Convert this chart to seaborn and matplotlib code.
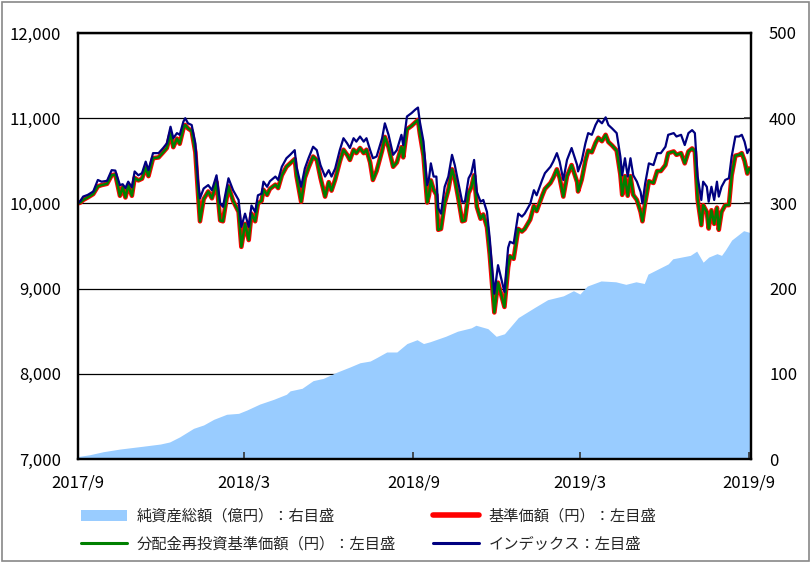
import matplotlib
matplotlib.use("Agg")
import matplotlib.pyplot as plt
from matplotlib.patches import Patch, Rectangle
from matplotlib.lines import Line2D
from matplotlib.ticker import FuncFormatter, FixedLocator
import numpy as np
import pandas as pd
import seaborn as sns

# ---- data -------------------------------------------------------------
start_date = "2017-09-01"

# days elapsed since the start date for the price series
price_days = [
    0, 3, 6, 11, 17, 22, 26, 32, 37, 41, 46, 49, 52, 55, 59, 62, 66, 70, 74, 77,
    82, 88, 93, 97, 101, 104, 108, 111, 115, 117, 120, 124, 128, 131, 133, 137,
    142, 146, 151, 155, 158, 164, 169, 175, 178, 182, 186, 189, 193, 196, 200,
    202, 206, 209, 215, 218, 222, 227, 231, 236, 238, 243, 247, 251, 256, 260,
    264, 269, 273, 276, 280, 285, 289, 293, 296, 300, 303, 307, 311, 314, 318,
    321, 325, 331, 334, 338, 343, 347, 352, 354, 358, 363, 367, 370, 372, 376,
    380, 382, 384, 387, 390, 392, 395, 399, 403, 407, 410, 414, 418, 421, 425,
    428, 431, 434, 438, 441, 445, 448, 453, 457, 464, 468, 470, 474, 479, 483,
    486, 492, 496, 499, 505, 508, 514, 517, 521, 524, 528, 532, 537, 543, 544,
    548, 552, 555, 559, 563, 566, 570, 574, 577, 581, 586, 590, 592, 595, 598,
    601, 604, 608, 612, 614, 617, 621, 626, 630, 634, 639, 642, 648, 651, 656,
    660, 664, 668, 671, 674, 678, 680, 684, 686, 689, 692, 695, 697, 700, 704,
    708, 711, 715, 719, 722, 725, 728, 730, 732,
]

# index level (yen-equivalent, left axis)
index_level = [
    10000, 10030, 10080, 10100, 10140, 10275, 10255, 10265, 10390, 10385, 10215,
    10225, 10180, 10255, 10190, 10375, 10330, 10355, 10490, 10390, 10590, 10590,
    10650, 10705, 10900, 10765, 10825, 10805, 10960, 11000, 10940, 10920, 10705,
    10255, 10060, 10175, 10215, 10155, 10330, 10000, 9960, 10295, 10155, 10040,
    9725, 9880, 9725, 9975, 9900, 10095, 10115, 10255, 10195, 10260, 10315,
    10275, 10430, 10530, 10570, 10625, 10430, 10195, 10410, 10530, 10665, 10625,
    10450, 10315, 10390, 10315, 10410, 10625, 10765, 10705, 10650, 10765, 10725,
    10785, 10725, 10765, 10625, 10530, 10550, 10765, 10940, 10805, 10570, 10625,
    10805, 10685, 11020, 11060, 11100, 11125, 10960, 10725, 10215, 10295, 10470,
    10315, 10315, 9945, 9880, 10195, 10315, 10570, 10450, 10235, 10020, 10020,
    10295, 10355, 10510, 10135, 10020, 10040, 9900, 9590, 8940, 9275, 8960,
    9480, 9550, 9530, 9880, 9845, 9880, 9995, 10155, 10095, 10275, 10355, 10430,
    10490, 10590, 10490, 10275, 10510, 10650, 10450, 10375, 10500, 10705, 10825,
    10805, 10920, 10980, 10940, 11010, 10920, 10880, 10825, 10550, 10330, 10530,
    10315, 10530, 10330, 10255, 10135, 10000, 10235, 10470, 10450, 10590, 10590,
    10665, 10805, 10825, 10785, 10805, 10685, 10825, 10860, 10825, 10315, 10040,
    10255, 10195, 10020, 10195, 10040, 10255, 10080, 10195, 10275, 10295, 10550,
    10785, 10785, 10805, 10725, 10590, 10635, 10620,
]

# fund NAV per 10,000 units (yen, left axis)
nav_yen = [
    10000, 10010, 10040, 10070, 10110, 10200, 10215, 10230, 10330, 10340, 10090,
    10190, 10070, 10210, 10090, 10300, 10270, 10290, 10420, 10320, 10530, 10540,
    10600, 10650, 10820, 10660, 10760, 10700, 10880, 10920, 10880, 10850, 10600,
    10100, 9790, 10050, 10140, 10060, 10250, 9800, 9790, 10200, 10030, 9900,
    9490, 9760, 9570, 9880, 9790, 10000, 10030, 10160, 10100, 10170, 10220,
    10180, 10330, 10430, 10470, 10520, 10320, 10020, 10300, 10420, 10550, 10510,
    10300, 10080, 10250, 10150, 10280, 10490, 10630, 10570, 10510, 10630, 10590,
    10650, 10590, 10630, 10480, 10275, 10380, 10620, 10780, 10660, 10430, 10480,
    10660, 10540, 10870, 10910, 10950, 10980, 10820, 10560, 10010, 10100, 10270,
    10160, 10100, 9690, 9700, 10000, 10160, 10400, 10290, 10050, 9790, 9800,
    10120, 10190, 10330, 9960, 9820, 9870, 9720, 9400, 8720, 9070, 8785,
    9250, 9380, 9350, 9700, 9670, 9700, 9810, 9970, 9910, 10090, 10170, 10240,
    10300, 10400, 10300, 10080, 10320, 10450, 10250, 10140, 10280, 10500, 10620,
    10600, 10710, 10770, 10730, 10805, 10720, 10680, 10620, 10340, 10100, 10320,
    10090, 10320, 10100, 10040, 9900, 9790, 10010, 10260, 10240, 10380, 10380,
    10450, 10590, 10610, 10570, 10590, 10470, 10610, 10645, 10610, 10050, 9745,
    9980, 9900, 9705, 9920, 9760, 9950, 9690, 9900, 9980, 9980, 10330,
    10560, 10570, 10590, 10500, 10350, 10410, 10390,
]

# no distributions were paid, so the reinvested NAV equals the NAV
reinvested_nav_yen = list(nav_yen)

# net assets (100 million yen, right axis)
asset_days = [
    0, 1, 13, 28, 46, 71, 90, 100, 111, 126, 137, 148, 162, 175, 184, 198, 213,
    227, 231, 244, 256, 267, 282, 296, 307, 318, 325, 336, 347, 358, 369, 376,
    383, 400, 413, 428, 433, 446, 455, 464, 479, 497, 511, 528, 539, 546, 554,
    569, 585, 596, 607, 616, 620, 631, 642, 647, 666, 673, 680, 686, 695, 700,
    704, 711, 724, 732,
]
net_assets = [
    0.5, 3, 5, 8.6, 11.7, 15, 17.6, 20, 26, 36, 40, 46.6, 52.5, 53.6, 57.5, 64.5,
    70, 76, 80, 83, 92, 94.6, 102, 108, 113, 115, 119, 125.6, 125.6, 135.5, 140,
    135.5, 137.6, 144, 150, 154, 157, 153, 144, 147, 166, 178, 187, 191.5, 197.5,
    193.6, 203, 209, 208, 205, 208, 206, 217, 223, 229, 235, 239, 244, 231, 237,
    241, 239, 245, 257, 268, 265.5,
]

left_ticks = [7000, 8000, 9000, 10000, 11000, 12000]
right_ticks = [0, 100, 200, 300, 400, 500]
date_ticks = ["2017-09-01", "2018-03-01", "2018-09-01", "2019-03-01", "2019-09-01"]
date_tick_labels = ["2017/9", "2018/3", "2018/9", "2019/3", "2019/9"]

legend_labels = [
    "純資産総額（億円）：右目盛",
    "分配金再投資基準価額（円）：左目盛",
    "基準価額（円）：左目盛",
    "インデックス：左目盛",
]

# ---- styling ----------------------------------------------------------
sns.set_theme(style="white")
plt.rcParams["font.family"] = ["Noto Sans CJK JP", "DejaVu Sans"]
plt.rcParams["axes.unicode_minus"] = False

AREA_COLOR = "#99CCFF"
RED = "#FF0000"
GREEN = "#008000"
NAVY = "#000080"

t0 = pd.Timestamp(start_date)
prices = pd.DataFrame({
    "date": t0 + pd.to_timedelta(price_days, unit="D"),
    "index": index_level,
    "nav": nav_yen,
    "reinvested": reinvested_nav_yen,
})
assets = pd.DataFrame({
    "date": t0 + pd.to_timedelta(asset_days, unit="D"),
    "assets": net_assets,
})

fig = plt.figure(figsize=(8.11, 5.63), dpi=100)
ax = fig.add_axes([0.0957, 0.1847, 0.8303, 0.7567])
ax2 = ax.twinx()

# area on the right axis, drawn beneath the price lines
ax2.set_zorder(1)
ax.set_zorder(2)
ax.patch.set_visible(False)

ax2.fill_between(assets["date"], 0, assets["assets"], color=AREA_COLOR,
                 linewidth=0, zorder=2)
ax2.set_ylim(0, 500)
ax2.yaxis.set_major_locator(FixedLocator(right_ticks))
ax2.grid(axis="y", color="#000000", linewidth=0.9, zorder=1)
ax2.set_axisbelow(True)

sns.lineplot(data=prices, x="date", y="nav", ax=ax, color=RED, linewidth=3.3,
             legend=False, estimator=None)
sns.lineplot(data=prices, x="date", y="reinvested", ax=ax, color=GREEN,
             linewidth=1.8, legend=False, estimator=None)
sns.lineplot(data=prices, x="date", y="index", ax=ax, color=NAVY,
             linewidth=1.6, legend=False, estimator=None)

ax.set_ylim(7000, 12000)
ax.set_xlim(t0, t0 + pd.Timedelta(days=732))
ax.yaxis.set_major_locator(FixedLocator(left_ticks))
ax.yaxis.set_major_formatter(FuncFormatter(lambda v, p: f"{int(v):,}"))
ax.set_xticks(pd.to_datetime(date_ticks))
ax.set_xticklabels(date_tick_labels)
ax.set_xlabel("")
ax.set_ylabel("")
ax2.set_ylabel("")
ax.grid(False)

ax.tick_params(axis="y", left=True, length=0, pad=12, labelsize=12,
               colors="#000000")
ax.tick_params(axis="x", bottom=True, direction="in", length=5, width=1.2,
               pad=11, labelsize=12, color="#333333", labelcolor="#000000")
ax2.tick_params(axis="y", right=True, direction="in", length=5, width=1.2,
                pad=13, labelsize=12, color="#333333", labelcolor="#000000")

for a in (ax, ax2):
    for s in a.spines.values():
        s.set_color("#000000")
        s.set_linewidth(1.6)

# legend below the plot, two columns
handles = [
    Patch(facecolor=AREA_COLOR, edgecolor="none"),
    Line2D([], [], color=GREEN, linewidth=2.2),
    Line2D([], [], color=RED, linewidth=4),
    Line2D([], [], color=NAVY, linewidth=2.2),
]
fig.legend(handles, legend_labels, ncol=2, loc="upper left",
           bbox_to_anchor=(0.100, 0.098), frameon=False, fontsize=11,
           handlelength=3.0, handleheight=0.75, handletextpad=0.65,
           columnspacing=2.4, labelspacing=0.72, borderpad=0, borderaxespad=0)

# thin frame around the whole figure
fig.patches.append(Rectangle((0.002, 0.003), 0.996, 0.994,
                             transform=fig.transFigure, fill=False,
                             edgecolor="#888888", linewidth=1.2))

fig.savefig("out.png", dpi=100)
